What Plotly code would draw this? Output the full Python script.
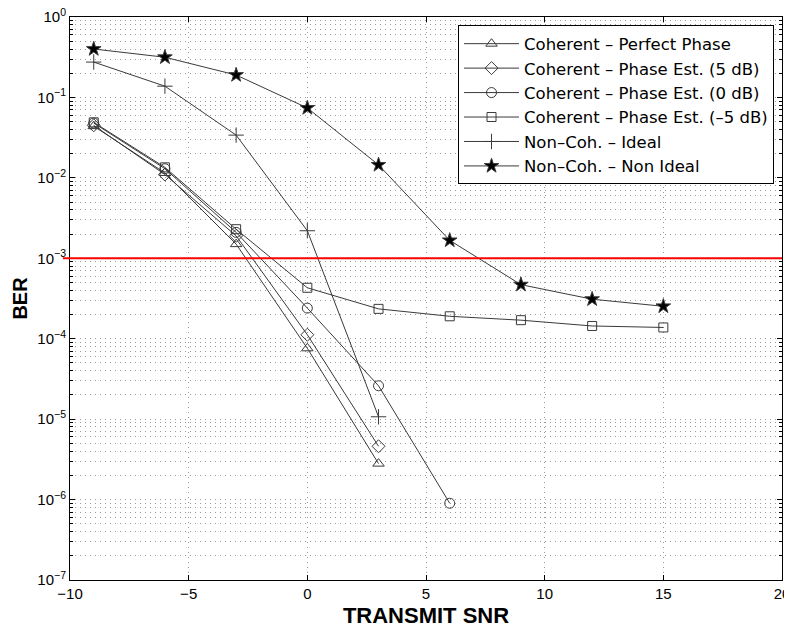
import plotly.graph_objects as go

snr_coh = [-9, -6, -3, 0, 3]
snr_0db = [-9, -6, -3, 0, 3, 6]
snr_long = [-9, -6, -3, 0, 3, 6, 9, 12, 15]

ber_perfect = [0.044, 0.0115, 1.5e-3, 7.6e-5, 2.8e-6]
ber_est5 = [0.045, 0.011, 1.9e-3, 1.12e-4, 4.6e-6]
ber_est0 = [0.048, 0.013, 2.1e-3, 2.4e-4, 2.6e-5, 9e-7]
ber_estm5 = [0.049, 0.0135, 2.3e-3, 4.3e-4, 2.35e-4, 1.9e-4, 1.7e-4, 1.44e-4, 1.38e-4]
ber_nc_ideal = [0.275, 0.138, 0.034, 2.2e-3, 1.07e-5]
ber_nc_nonideal = [0.40, 0.316, 0.19, 0.074, 0.0145, 1.67e-3, 4.7e-4, 3.1e-4, 2.53e-4]

names = ["Coherent \u2013 Perfect Phase", "Coherent \u2013 Phase Est. (5 dB)",
         "Coherent \u2013 Phase Est. (0 dB)", "Coherent \u2013 Phase Est. (\u20135 dB)",
         "Non\u2013Coh. \u2013 Ideal", "Non\u2013Coh. \u2013 Non Ideal"]

ber_threshold = 1e-3
x_ticks = [-10, -5, 0, 5, 10, 15, 20]
y_exps = [0, -1, -2, -3, -4, -5, -6, -7]

line_col = "#3a3a3a"
series = [
    (snr_coh, ber_perfect, "triangle-up-open", 10),
    (snr_coh, ber_est5, "diamond-open", 10),
    (snr_0db, ber_est0, "circle-open", 10),
    (snr_long, ber_estm5, "square-open", 9),
    (snr_coh, ber_nc_ideal, "cross-thin-open", 11),
    (snr_long, ber_nc_nonideal, "star", 11),
]

fig = go.Figure()
for (xs, ys, sym, sz), nm in zip(series, names):
    fig.add_trace(go.Scatter(
        x=xs, y=ys, name=nm, mode="lines+markers",
        line=dict(color=line_col, width=1),
        marker=dict(symbol=sym, size=sz, color="black" if sym == "star" else line_col,
                    line=dict(color=line_col, width=1)),
    ))

fig.add_shape(type="line", xref="paper", yref="y", x0=-0.01, x1=1,
              y0=ber_threshold, y1=ber_threshold,
              line=dict(color="#ff0000", width=2))

grid_col = "#9a9a9a"
grid_dash = "1px,4px"
font_fam = "Liberation Sans, Arial, sans-serif"
title_fam = "Liberation Sans, Arial, sans-serif"
# page has an 8px body margin; figure is sized to fit inside the 792x628 window
fig.update_layout(
    width=784, height=620,
    margin=dict(l=61.7, r=10, t=8.5, b=48, autoexpand=False),
    paper_bgcolor="white", plot_bgcolor="white",
    font=dict(family=font_fam, size=15, color="black"),
    legend=dict(x=0.9888, xanchor="right", y=0.985, yanchor="top",
                bordercolor="black", borderwidth=1, bgcolor="white",
                font=dict(family="DejaVu Sans, sans-serif", size=16.5), tracegroupgap=0, itemwidth=55),
    showlegend=True,
)
fig.update_xaxes(
    range=[-10, 20], tickvals=x_ticks, ticktext=[str(v).replace("-", "\u2212") for v in x_ticks],
    automargin=False, ticklabeloverflow="allow",
    showline=True, linecolor="black", linewidth=1, mirror="ticks",
    ticks="inside", ticklen=5, tickcolor="black",
    showgrid=True, gridcolor=grid_col, griddash=grid_dash, gridwidth=1,
    zeroline=False,
    title=dict(text="<b>TRANSMIT SNR</b>", font=dict(family=title_fam, size=22), standoff=6),
)
fig.update_yaxes(
    type="log", range=[-7, 0],
    tickvals=[10 ** e for e in y_exps],
    ticktext=["10<sup>%s</sup>" % str(e).replace("-", "\u2212") for e in y_exps],
    automargin=False, ticklabeloverflow="allow",
    showline=True, linecolor="black", linewidth=1, mirror="ticks",
    ticks="inside", ticklen=5, tickcolor="black",
    showgrid=True, gridcolor=grid_col, griddash=grid_dash, gridwidth=1,
    minor=dict(showgrid=True, gridcolor=grid_col, griddash=grid_dash, ticks="inside", ticklen=3,
               tickcolor="black", dtick="D1"),
    zeroline=False,
    title=dict(text="<b>BER</b>", font=dict(family=title_fam, size=20), standoff=4),
)

fig.write_html("out.html")
